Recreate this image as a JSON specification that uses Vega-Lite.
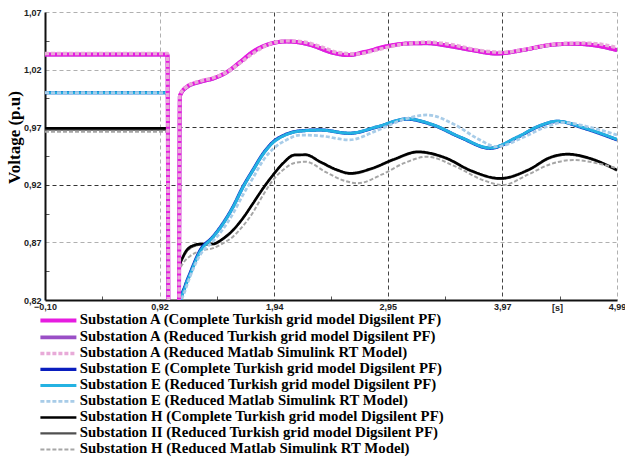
{
  "$schema": "https://vega.github.io/schema/vega-lite/v6.json",
  "autosize": "none",
  "width": 572,
  "height": 288,
  "padding": {"left": 45, "top": 12, "right": 8, "bottom": 157},
  "background": "white",
  "datasets": {
    "names": [
      {"s": "A1", "name": "Substation A (Complete Turkish grid model Digsilent PF)"},
      {"s": "A2", "name": "Substation A (Reduced Turkish grid model Digsilent PF)"},
      {"s": "A3", "name": "Substation A (Reduced Matlab Simulink RT Model)"},
      {"s": "E1", "name": "Substation E (Complete Turkish grid model Digsilent PF)"},
      {"s": "E2", "name": "Substation E (Reduced Turkish grid model Digsilent PF)"},
      {"s": "E3", "name": "Substation E (Reduced Matlab Simulink RT Model)"},
      {"s": "H1", "name": "Substation H (Complete Turkish grid model Digsilent PF)"},
      {"s": "H2", "name": "Substation II (Reduced Turkish grid model Digsilent PF)"},
      {"s": "H3", "name": "Substation H (Reduced Matlab Simulink RT Model)"}
    ]
  },
  "data": {
    "values": [
      {"s":"H2","t":-0.1,"v":0.968},{"s":"H2","t":0.99,"v":0.968},{"s":"H2","t":1.0,"v":0.78},{"s":"H2","t":1.09,"v":0.78},{"s":"H2","t":1.095,"v":0.8},{"s":"H2","t":1.1,"v":0.849},{"s":"H2","t":1.13,"v":0.857},{"s":"H2","t":1.19,"v":0.865},{"s":"H2","t":1.28,"v":0.868},{"s":"H2","t":1.395,"v":0.8683},{"s":"H2","t":1.48,"v":0.8725},{"s":"H2","t":1.573,"v":0.8803},{"s":"H2","t":1.66,"v":0.8905},{"s":"H2","t":1.751,"v":0.9035},{"s":"H2","t":1.84,"v":0.9165},{"s":"H2","t":1.928,"v":0.928},{"s":"H2","t":2.02,"v":0.9385},{"s":"H2","t":2.12,"v":0.9455},{"s":"H2","t":2.22,"v":0.9457},{"s":"H2","t":2.35,"v":0.9395},{"s":"H2","t":2.5,"v":0.9325},{"s":"H2","t":2.62,"v":0.9295},{"s":"H2","t":2.8,"v":0.9335},{"s":"H2","t":3.0,"v":0.9415},{"s":"H2","t":3.22,"v":0.9482},{"s":"H2","t":3.45,"v":0.9435},{"s":"H2","t":3.7,"v":0.9315},{"s":"H2","t":3.95,"v":0.9251},{"s":"H2","t":4.2,"v":0.9325},{"s":"H2","t":4.4,"v":0.9435},{"s":"H2","t":4.55,"v":0.9462},{"s":"H2","t":4.75,"v":0.9425},{"s":"H2","t":4.99,"v":0.9324},

      {"s":"H1","t":-0.1,"v":0.969},{"s":"H1","t":0.99,"v":0.969},{"s":"H1","t":1.0,"v":0.78},{"s":"H1","t":1.09,"v":0.78},{"s":"H1","t":1.095,"v":0.8},{"s":"H1","t":1.1,"v":0.85},{"s":"H1","t":1.13,"v":0.858},{"s":"H1","t":1.19,"v":0.866},{"s":"H1","t":1.28,"v":0.8686},{"s":"H1","t":1.395,"v":0.8688},{"s":"H1","t":1.48,"v":0.873},{"s":"H1","t":1.573,"v":0.8808},{"s":"H1","t":1.66,"v":0.891},{"s":"H1","t":1.751,"v":0.904},{"s":"H1","t":1.84,"v":0.917},{"s":"H1","t":1.928,"v":0.9285},{"s":"H1","t":2.02,"v":0.939},{"s":"H1","t":2.12,"v":0.946},{"s":"H1","t":2.22,"v":0.9462},{"s":"H1","t":2.35,"v":0.94},{"s":"H1","t":2.5,"v":0.933},{"s":"H1","t":2.62,"v":0.93},{"s":"H1","t":2.8,"v":0.934},{"s":"H1","t":3.0,"v":0.942},{"s":"H1","t":3.22,"v":0.9487},{"s":"H1","t":3.45,"v":0.944},{"s":"H1","t":3.7,"v":0.932},{"s":"H1","t":3.95,"v":0.9256},{"s":"H1","t":4.2,"v":0.933},{"s":"H1","t":4.4,"v":0.944},{"s":"H1","t":4.55,"v":0.9467},{"s":"H1","t":4.75,"v":0.943},{"s":"H1","t":4.99,"v":0.9329},

      {"s":"H3","t":-0.1,"v":0.966},{"s":"H3","t":0.99,"v":0.966},{"s":"H3","t":1.0,"v":0.78},{"s":"H3","t":1.09,"v":0.78},{"s":"H3","t":1.095,"v":0.8},{"s":"H3","t":1.1,"v":0.846},{"s":"H3","t":1.13,"v":0.852},{"s":"H3","t":1.19,"v":0.858},{"s":"H3","t":1.3,"v":0.863},{"s":"H3","t":1.395,"v":0.865},{"s":"H3","t":1.48,"v":0.869},{"s":"H3","t":1.573,"v":0.875},{"s":"H3","t":1.66,"v":0.884},{"s":"H3","t":1.751,"v":0.896},{"s":"H3","t":1.84,"v":0.911},{"s":"H3","t":1.928,"v":0.924},{"s":"H3","t":2.02,"v":0.933},{"s":"H3","t":2.12,"v":0.939},{"s":"H3","t":2.22,"v":0.94},{"s":"H3","t":2.4,"v":0.931},{"s":"H3","t":2.55,"v":0.924},{"s":"H3","t":2.68,"v":0.9213},{"s":"H3","t":2.9,"v":0.929},{"s":"H3","t":3.1,"v":0.939},{"s":"H3","t":3.3,"v":0.9444},{"s":"H3","t":3.55,"v":0.936},{"s":"H3","t":3.8,"v":0.924},{"s":"H3","t":3.975,"v":0.9198},{"s":"H3","t":4.2,"v":0.929},{"s":"H3","t":4.4,"v":0.938},{"s":"H3","t":4.6,"v":0.9415},{"s":"H3","t":4.8,"v":0.939},{"s":"H3","t":4.99,"v":0.9343},

      {"s":"E1","t":-0.1,"v":1.0},{"s":"E1","t":0.99,"v":1.0},{"s":"E1","t":1.0,"v":0.78},{"s":"E1","t":1.08,"v":0.78},{"s":"E1","t":1.1,"v":0.815},{"s":"E1","t":1.15,"v":0.833},{"s":"E1","t":1.19,"v":0.843},{"s":"E1","t":1.28,"v":0.863},{"s":"E1","t":1.395,"v":0.875},{"s":"E1","t":1.48,"v":0.886},{"s":"E1","t":1.573,"v":0.901},{"s":"E1","t":1.66,"v":0.918},{"s":"E1","t":1.751,"v":0.933},{"s":"E1","t":1.84,"v":0.947},{"s":"E1","t":1.928,"v":0.957},{"s":"E1","t":2.05,"v":0.964},{"s":"E1","t":2.17,"v":0.9668},{"s":"E1","t":2.35,"v":0.9676},{"s":"E1","t":2.61,"v":0.9647},{"s":"E1","t":2.85,"v":0.97},{"s":"E1","t":3.12,"v":0.977},{"s":"E1","t":3.35,"v":0.972},{"s":"E1","t":3.6,"v":0.961},{"s":"E1","t":3.86,"v":0.9517},{"s":"E1","t":4.1,"v":0.961},{"s":"E1","t":4.3,"v":0.971},{"s":"E1","t":4.46,"v":0.975},{"s":"E1","t":4.7,"v":0.969},{"s":"E1","t":4.99,"v":0.959},

      {"s":"E2","t":-0.1,"v":1.0},{"s":"E2","t":0.99,"v":1.0},{"s":"E2","t":1.0,"v":0.78},{"s":"E2","t":1.08,"v":0.78},{"s":"E2","t":1.1,"v":0.814},{"s":"E2","t":1.15,"v":0.832},{"s":"E2","t":1.19,"v":0.842},{"s":"E2","t":1.28,"v":0.862},{"s":"E2","t":1.395,"v":0.8745},{"s":"E2","t":1.48,"v":0.8855},{"s":"E2","t":1.573,"v":0.9005},{"s":"E2","t":1.66,"v":0.9175},{"s":"E2","t":1.751,"v":0.9325},{"s":"E2","t":1.84,"v":0.9465},{"s":"E2","t":1.928,"v":0.9565},{"s":"E2","t":2.05,"v":0.9637},{"s":"E2","t":2.17,"v":0.9666},{"s":"E2","t":2.35,"v":0.9675},{"s":"E2","t":2.61,"v":0.9648},{"s":"E2","t":2.85,"v":0.9702},{"s":"E2","t":3.12,"v":0.9772},{"s":"E2","t":3.35,"v":0.9722},{"s":"E2","t":3.6,"v":0.9612},{"s":"E2","t":3.86,"v":0.952},{"s":"E2","t":4.1,"v":0.9613},{"s":"E2","t":4.3,"v":0.9712},{"s":"E2","t":4.46,"v":0.9752},{"s":"E2","t":4.7,"v":0.9693},{"s":"E2","t":4.99,"v":0.9594},

      {"s":"E3","t":-0.1,"v":1.0},{"s":"E3","t":0.99,"v":1.0},{"s":"E3","t":1.0,"v":0.78},{"s":"E3","t":1.08,"v":0.78},{"s":"E3","t":1.1,"v":0.812},{"s":"E3","t":1.15,"v":0.829},{"s":"E3","t":1.19,"v":0.84},{"s":"E3","t":1.28,"v":0.859},{"s":"E3","t":1.395,"v":0.871},{"s":"E3","t":1.48,"v":0.881},{"s":"E3","t":1.573,"v":0.895},{"s":"E3","t":1.66,"v":0.911},{"s":"E3","t":1.751,"v":0.926},{"s":"E3","t":1.84,"v":0.941},{"s":"E3","t":1.928,"v":0.951},{"s":"E3","t":2.05,"v":0.959},{"s":"E3","t":2.17,"v":0.9632},{"s":"E3","t":2.35,"v":0.9625},{"s":"E3","t":2.61,"v":0.959},{"s":"E3","t":2.85,"v":0.967},{"s":"E3","t":3.1,"v":0.977},{"s":"E3","t":3.3,"v":0.9806},{"s":"E3","t":3.55,"v":0.972},{"s":"E3","t":3.75,"v":0.96},{"s":"E3","t":3.92,"v":0.9531},{"s":"E3","t":4.15,"v":0.961},{"s":"E3","t":4.35,"v":0.97},{"s":"E3","t":4.51,"v":0.974},{"s":"E3","t":4.75,"v":0.97},{"s":"E3","t":4.99,"v":0.9632},

      {"s":"A2","t":-0.1,"v":1.033},{"s":"A2","t":0.99,"v":1.033},{"s":"A2","t":1.0,"v":0.78},{"s":"A2","t":1.09,"v":0.78},{"s":"A2","t":1.1,"v":0.997},{"s":"A2","t":1.16,"v":1.0045},{"s":"A2","t":1.28,"v":1.0093},{"s":"A2","t":1.4,"v":1.0123},{"s":"A2","t":1.52,"v":1.0178},{"s":"A2","t":1.64,"v":1.0268},{"s":"A2","t":1.75,"v":1.0353},{"s":"A2","t":1.87,"v":1.0413},{"s":"A2","t":2.05,"v":1.0444},{"s":"A2","t":2.17,"v":1.0435},{"s":"A2","t":2.28,"v":1.0408},{"s":"A2","t":2.45,"v":1.0348},{"s":"A2","t":2.6,"v":1.0325},{"s":"A2","t":2.75,"v":1.0352},{"s":"A2","t":2.95,"v":1.0403},{"s":"A2","t":3.15,"v":1.0427},{"s":"A2","t":3.3,"v":1.0428},{"s":"A2","t":3.5,"v":1.0403},{"s":"A2","t":3.7,"v":1.0368},{"s":"A2","t":3.92,"v":1.0338},{"s":"A2","t":4.15,"v":1.0368},{"s":"A2","t":4.4,"v":1.0413},{"s":"A2","t":4.6,"v":1.0423},{"s":"A2","t":4.8,"v":1.0408},{"s":"A2","t":4.99,"v":1.0368},

      {"s":"A1","t":-0.1,"v":1.033},{"s":"A1","t":0.99,"v":1.033},{"s":"A1","t":1.0,"v":0.78},{"s":"A1","t":1.09,"v":0.78},{"s":"A1","t":1.1,"v":0.997},{"s":"A1","t":1.16,"v":1.005},{"s":"A1","t":1.28,"v":1.0095},{"s":"A1","t":1.4,"v":1.0125},{"s":"A1","t":1.52,"v":1.018},{"s":"A1","t":1.64,"v":1.027},{"s":"A1","t":1.75,"v":1.0355},{"s":"A1","t":1.87,"v":1.0414},{"s":"A1","t":2.05,"v":1.0445},{"s":"A1","t":2.17,"v":1.0435},{"s":"A1","t":2.28,"v":1.041},{"s":"A1","t":2.45,"v":1.035},{"s":"A1","t":2.6,"v":1.0327},{"s":"A1","t":2.75,"v":1.0355},{"s":"A1","t":2.95,"v":1.0405},{"s":"A1","t":3.15,"v":1.0428},{"s":"A1","t":3.3,"v":1.043},{"s":"A1","t":3.5,"v":1.0405},{"s":"A1","t":3.7,"v":1.037},{"s":"A1","t":3.92,"v":1.034},{"s":"A1","t":4.15,"v":1.037},{"s":"A1","t":4.4,"v":1.0415},{"s":"A1","t":4.6,"v":1.0425},{"s":"A1","t":4.8,"v":1.041},{"s":"A1","t":4.99,"v":1.037},

      {"s":"A3","t":-0.1,"v":1.034},{"s":"A3","t":0.99,"v":1.034},{"s":"A3","t":1.0,"v":0.78},{"s":"A3","t":1.09,"v":0.78},{"s":"A3","t":1.1,"v":0.998},{"s":"A3","t":1.16,"v":1.005},{"s":"A3","t":1.28,"v":1.01},{"s":"A3","t":1.4,"v":1.013},{"s":"A3","t":1.52,"v":1.018},{"s":"A3","t":1.64,"v":1.026},{"s":"A3","t":1.75,"v":1.034},{"s":"A3","t":1.87,"v":1.041},{"s":"A3","t":2.05,"v":1.045},{"s":"A3","t":2.2,"v":1.044},{"s":"A3","t":2.35,"v":1.04},{"s":"A3","t":2.5,"v":1.035},{"s":"A3","t":2.68,"v":1.0335},{"s":"A3","t":2.85,"v":1.037},{"s":"A3","t":3.05,"v":1.0415},{"s":"A3","t":3.3,"v":1.0438},{"s":"A3","t":3.5,"v":1.042},{"s":"A3","t":3.75,"v":1.037},{"s":"A3","t":3.98,"v":1.035},{"s":"A3","t":4.2,"v":1.038},{"s":"A3","t":4.45,"v":1.042},{"s":"A3","t":4.7,"v":1.043},{"s":"A3","t":4.85,"v":1.042},{"s":"A3","t":4.99,"v":1.039}
    ]
  },
  "transform": [
    {"lookup": "s", "from": {"data": {"name": "names"}, "key": "s", "fields": ["name"]}}
  ],
  "mark": {"type": "line", "interpolate": "monotone", "clip": true},
  "encoding": {
    "x": {
      "field": "t", "type": "quantitative",
      "scale": {"domain": [-0.1, 4.99], "nice": false, "zero": false},
      "axis": {
        "title": "[s]",
        "titleX": 512, "titleY": 3, "titleAlign": "center", "titleBaseline": "top",
        "titleFont": "Liberation Sans Narrow, Liberation Sans", "titleFontSize": 9, "titleFontWeight": "bold", "titleColor": "#222",
        "values": [-0.1, 0.41, 0.92, 1.43, 1.94, 2.445, 2.95, 3.46, 3.97, 4.48, 4.99],
        "labelExpr": "indexof([-0.1, 0.92, 1.94, 2.95, 3.97, 4.99], datum.value) >= 0 ? replace(format(datum.value, '.2f'), '.', ',') : ''",
        "grid": true,
        "gridDash": [4, 3],
        "gridColor": {"condition": {"test": "datum.value > 1.5 && datum.value < 4.5", "value": "#444444"}, "value": "#b0b0b0"},
        "gridOpacity": {"condition": {"test": "indexof([0.41, 1.43, 2.445, 3.46, 4.48, -0.1], datum.value) >= 0", "value": 0}, "value": 1},
        "ticks": true,
        "tickSize": -4,
        "tickColor": "#555",
        "tickOpacity": {"condition": {"test": "indexof([0.41, 1.43, 2.445, 3.46, 4.48], datum.value) >= 0", "value": 1}, "value": 0},
        "labelPadding": 6.5,
        "labelFlush": false,
        "labelOverlap": false
      }
    },
    "y": {
      "field": "v", "type": "quantitative",
      "scale": {"domain": [0.82, 1.07], "nice": false, "zero": false},
      "axis": {
        "title": "Voltage (p.u)",
        "titleFont": "Liberation Serif", "titleFontSize": 17, "titleFontWeight": "bold", "titleColor": "#000",
        "titleX": -31, "titleY": 125, "titleAngle": -90, "titleAlign": "center", "titleBaseline": "middle",
        "values": [0.82, 0.845, 0.87, 0.895, 0.92, 0.945, 0.97, 0.995, 1.02, 1.045, 1.07],
        "labelExpr": "indexof([0.82, 0.87, 0.92, 0.97, 1.02, 1.07], datum.value) >= 0 ? replace(format(datum.value, '.2f'), '.', ',') : ''",
        "grid": true,
        "gridDash": [4, 3],
        "gridColor": {"condition": {"test": "datum.value > 0.9 && datum.value < 1.0", "value": "#333333"}, "value": "#b0b0b0"},
        "gridOpacity": {"condition": {"test": "indexof([0.845, 0.895, 0.945, 0.995, 1.045, 0.82], datum.value) >= 0", "value": 0}, "value": 1},
        "ticks": true,
        "tickSize": -4,
        "tickColor": "#555",
        "tickOpacity": {"condition": {"test": "indexof([0.845, 0.895, 0.945, 0.995, 1.045], datum.value) >= 0", "value": 1}, "value": 0},
        "labelPadding": 8,
        "labelOverlap": false
      }
    },
    "detail": {"field": "s"},
    "color": {
      "field": "name", "type": "nominal",
      "scale": {
        "domain": [
          "Substation A (Complete Turkish grid model Digsilent PF)",
          "Substation A (Reduced Turkish grid model Digsilent PF)",
          "Substation A (Reduced Matlab Simulink RT Model)",
          "Substation E (Complete Turkish grid model Digsilent PF)",
          "Substation E (Reduced Turkish grid model Digsilent PF)",
          "Substation E (Reduced Matlab Simulink RT Model)",
          "Substation H (Complete Turkish grid model Digsilent PF)",
          "Substation II (Reduced Turkish grid model Digsilent PF)",
          "Substation H (Reduced Matlab Simulink RT Model)"
        ],
        "range": ["#e61ce0", "#9a4fc6", "#e8aad8", "#0a1ebe", "#24b2e2", "#a8cce8", "#000000", "#505050", "#a6a6a6"]
      }
    },
    "strokeWidth": {
      "field": "name", "type": "nominal",
      "scale": {
        "domain": [
          "Substation A (Complete Turkish grid model Digsilent PF)",
          "Substation A (Reduced Turkish grid model Digsilent PF)",
          "Substation A (Reduced Matlab Simulink RT Model)",
          "Substation E (Complete Turkish grid model Digsilent PF)",
          "Substation E (Reduced Turkish grid model Digsilent PF)",
          "Substation E (Reduced Matlab Simulink RT Model)",
          "Substation H (Complete Turkish grid model Digsilent PF)",
          "Substation II (Reduced Turkish grid model Digsilent PF)",
          "Substation H (Reduced Matlab Simulink RT Model)"
        ],
        "range": [4, 2, 1.5, 3.5, 2.2, 1.5, 4, 2, 1.5]
      }
    },
    "strokeDash": {
      "field": "name", "type": "nominal",
      "scale": {
        "domain": [
          "Substation A (Complete Turkish grid model Digsilent PF)",
          "Substation A (Reduced Turkish grid model Digsilent PF)",
          "Substation A (Reduced Matlab Simulink RT Model)",
          "Substation E (Complete Turkish grid model Digsilent PF)",
          "Substation E (Reduced Turkish grid model Digsilent PF)",
          "Substation E (Reduced Matlab Simulink RT Model)",
          "Substation H (Complete Turkish grid model Digsilent PF)",
          "Substation II (Reduced Turkish grid model Digsilent PF)",
          "Substation H (Reduced Matlab Simulink RT Model)"
        ],
        "range": [[1, 0], [1, 0], [4, 2], [1, 0], [1, 0], [4, 2], [1, 0], [1, 0], [4, 2]]
      }
    }
  },
  "config": {
    "view": {"stroke": null},
    "axis": {
      "domainColor": "#111",
      "domainWidth": 2,
      "labelFont": "Liberation Sans Narrow, Liberation Sans",
      "labelFontSize": 9,
      "labelFontWeight": "bold",
      "labelColor": "#222"
    },
    "legend": {
      "title": null,
      "orient": "none",
      "legendX": 6,
      "legendY": 301,
      "direction": "vertical",
      "columns": 1,
      "symbolType": "M-4,0H4",
      "symbolSize": 81,
      "labelFont": "Liberation Serif",
      "labelFontSize": 14.8,
      "labelFontWeight": "bold",
      "labelColor": "#000",
      "labelOffset": 14,
      "labelLimit": 0,
      "rowPadding": 0,
      "padding": 0
    }
  }
}
